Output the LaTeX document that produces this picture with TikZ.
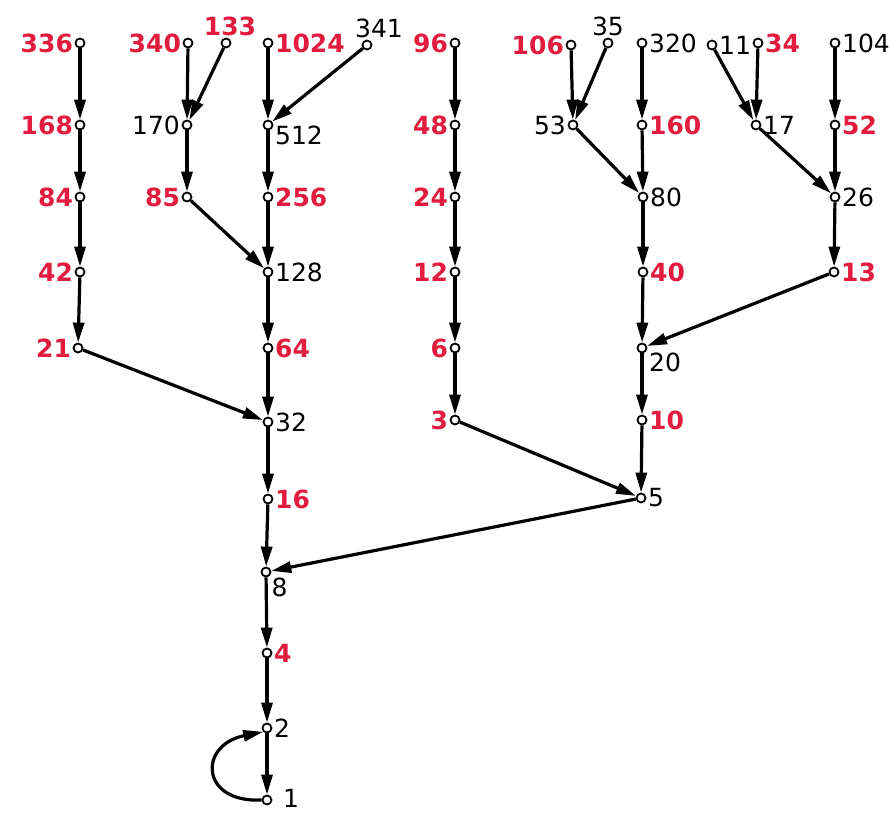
\documentclass[tikz,border=0pt]{standalone}
\usepackage{fontspec}
\setmainfont{DejaVu Sans}
\usetikzlibrary{arrows.meta}
\definecolor{labred}{RGB}{226,28,62}

\begin{document}
\begin{tikzpicture}[x = 1pt, y = -1pt,
		vert/.style = {circle, draw, line width = 1.8pt, fill = white, inner sep = 0pt, minimum size = 9pt},
		arr/.style = {line width = 3.2pt, -{Triangle[length = 20pt, width = 11pt]}},
		rl/.style = {text = labred, font = \fontsize{25}{25}\selectfont\bfseries, inner sep = 1.5pt},
		bl/.style = {font = \fontsize{25}{25}\selectfont, inner sep = 1.5pt}]
	\useasboundingbox (0,0) rectangle (895,814);
	% column of 336
	\node[vert, label = {[rl]left:336}] (n336) at (80,43) {};
	\node[vert, label = {[rl]left:168}] (n168) at (80,125) {};
	\node[vert, label = {[rl]left:84}] (n84) at (80,197) {};
	\node[vert, label = {[rl]left:42}] (n42) at (80,272) {};
	\node[vert, label = {[rl]left:21}] (n21) at (78,348) {};
	% column of 340
	\node[vert, label = {[rl]left:340}] (n340) at (188,43) {};
	\node[vert, label = {[rl,xshift=4pt]above:133}] (n133) at (226,43) {};
	\node[vert, label = {[bl]left:170}] (n170) at (187,125) {};
	\node[vert, label = {[rl]left:85}] (n85) at (187,197) {};
	% main column
	\node[vert, label = {[rl]right:1024}] (n1024) at (268,43) {};
	\node[vert, label = {[bl,xshift=12pt]above:341}] (n341) at (367,45) {};
	\node[vert, label = {[bl,yshift=-10pt]right:512}] (n512) at (268,125) {};
	\node[vert, label = {[rl]right:256}] (n256) at (268,197) {};
	\node[vert, label = {[bl]right:128}] (n128) at (268,272) {};
	\node[vert, label = {[rl]right:64}] (n64) at (268,348) {};
	\node[vert, label = {[bl]right:32}] (n32) at (268,422) {};
	\node[vert, label = {[rl]right:16}] (n16) at (268,499) {};
	\node[vert, label = {[bl]below right:8}] (n8) at (266,572) {};
	\node[vert, label = {[rl]right:4}] (n4) at (267,653) {};
	\node[vert, label = {[bl]right:2}] (n2) at (267,728) {};
	\node[vert, label = {[bl,yshift=2pt,xshift=9pt]right:1}] (n1) at (267,800) {};
	% column of 96
	\node[vert, label = {[rl]left:96}] (n96) at (455,43) {};
	\node[vert, label = {[rl]left:48}] (n48) at (455,125) {};
	\node[vert, label = {[rl]left:24}] (n24) at (455,197) {};
	\node[vert, label = {[rl]left:12}] (n12) at (455,272) {};
	\node[vert, label = {[rl]left:6}] (n6) at (455,348) {};
	\node[vert, label = {[rl]left:3}] (n3) at (455,420) {};
	% column of 106
	\node[vert, label = {[rl]left:106}] (n106) at (571,45) {};
	\node[vert, label = {[bl]above:35}] (n35) at (608,43) {};
	\node[vert, label = {[bl]left:53}] (n53) at (573,125) {};
	% column of 320
	\node[vert, label = {[bl]right:320}] (n320) at (642,43) {};
	\node[vert, label = {[rl]right:160}] (n160) at (642,125) {};
	\node[vert, label = {[bl]right:80}] (n80) at (643,197) {};
	\node[vert, label = {[rl]right:40}] (n40) at (643,272) {};
	\node[vert, label = {[bl,yshift=-14pt]right:20}] (n20) at (642,348) {};
	\node[vert, label = {[rl]right:10}] (n10) at (642,420) {};
	\node[vert, label = {[bl]right:5}] (n5) at (641,498) {};
	% column of 11 and 34
	\node[vert, label = {[bl]right:11}] (n11) at (712,45) {};
	\node[vert, label = {[rl]right:34}] (n34) at (758,43) {};
	\node[vert, label = {[bl]right:17}] (n17) at (756,125) {};
	% column of 104
	\node[vert, label = {[bl]right:104}] (n104) at (835,43) {};
	\node[vert, label = {[rl]right:52}] (n52) at (835,125) {};
	\node[vert, label = {[bl]right:26}] (n26) at (835,197) {};
	\node[vert, label = {[rl]right:13}] (n13) at (834,272) {};
	% arrows
	\draw[arr] (n336) -- (n168);
	\draw[arr] (n168) -- (n84);
	\draw[arr] (n84) -- (n42);
	\draw[arr] (n42) -- (n21);
	\draw[arr] (n21) -- (n32);
	\draw[arr] (n340) -- (n170);
	\draw[arr] (n133) -- (n170);
	\draw[arr] (n170) -- (n85);
	\draw[arr] (n85) -- (n128);
	\draw[arr] (n1024) -- (n512);
	\draw[arr] (n341) -- (n512);
	\draw[arr] (n512) -- (n256);
	\draw[arr] (n256) -- (n128);
	\draw[arr] (n128) -- (n64);
	\draw[arr] (n64) -- (n32);
	\draw[arr] (n32) -- (n16);
	\draw[arr] (n16) -- (n8);
	\draw[arr] (n8) -- (n4);
	\draw[arr] (n4) -- (n2);
	\draw[arr] (n2) -- (n1);
	\draw[arr] (n1.west) .. controls (200,803) and (198,745) .. (n2.south west); % loop
	\draw[arr] (n96) -- (n48);
	\draw[arr] (n48) -- (n24);
	\draw[arr] (n24) -- (n12);
	\draw[arr] (n12) -- (n6);
	\draw[arr] (n6) -- (n3);
	\draw[arr] (n3) -- (n5);
	\draw[arr] (n106) -- (n53);
	\draw[arr] (n35) -- (n53);
	\draw[arr] (n53) -- (n80);
	\draw[arr] (n320) -- (n160);
	\draw[arr] (n160) -- (n80);
	\draw[arr] (n80) -- (n40);
	\draw[arr] (n40) -- (n20);
	\draw[arr] (n20) -- (n10);
	\draw[arr] (n10) -- (n5);
	\draw[arr] (n5) -- (n8);
	\draw[arr] (n11) -- (n17);
	\draw[arr] (n34) -- (n17);
	\draw[arr] (n17) -- (n26);
	\draw[arr] (n104) -- (n52);
	\draw[arr] (n52) -- (n26);
	\draw[arr] (n26) -- (n13);
	\draw[arr] (n13) -- (n20);
\end{tikzpicture}
\end{document}
